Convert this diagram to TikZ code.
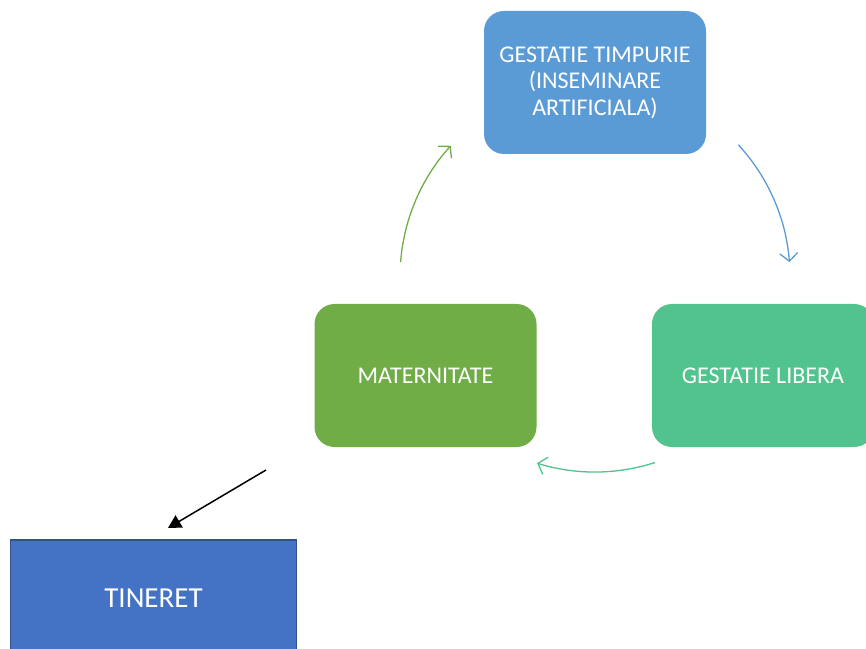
\documentclass[tikz,border=0pt]{standalone}
\usepackage{fontspec}
\setmainfont{Carlito}
\usetikzlibrary{arrows.meta,calc}
\definecolor{cBlue}{RGB}{91,155,213}
\definecolor{cTeal}{RGB}{80,196,140}
\definecolor{cGreen}{RGB}{112,173,71}
\definecolor{cDark}{RGB}{68,114,196}
\definecolor{cDarkEdge}{RGB}{47,82,143}
\tikzset{
  cyclebox/.style={rounded corners=20pt, minimum width=222pt, minimum height=143pt, inner sep=0pt, text=white, font=\fontsize{24}{26.5}\selectfont, align=center},
  cyclearrow/.style={line width=1.3pt, -{Straight Barb[length=8pt,width=18pt,line width=1.3pt]}},
}
\begin{document}
\begin{tikzpicture}
\clip (0,0) rectangle (866pt,648pt);
\useasboundingbox (0,0) rectangle (866pt,648pt);
\node[cyclebox, fill=cBlue] (top) at (595pt,565.5pt) {GESTATIE TIMPURIE\\(INSEMINARE\\ARTIFICIALA)};
\node[cyclebox, fill=cTeal] (lib) at (763pt,272.5pt) {GESTATIE LIBERA};
\node[cyclebox, fill=cGreen] (mat) at (425.5pt,272.5pt) {MATERNITATE};
\node[draw=cDarkEdge, line width=1.5pt, fill=cDark, minimum width=286pt, minimum height=116pt, inner sep=0pt, text=white, font=\fontsize{29}{32}\selectfont] (tin) at (153.5pt,50pt) {TINERET};
\coordinate (cyc) at (595pt,371pt);
\coordinate (g1) at ($(cyc)+(175.6:195pt)$);
\coordinate (b1) at ($(cyc)+(42.7:195pt)$);
\coordinate (t1) at ($(cyc)+(-72.1:195pt)$);
\draw[cyclearrow, draw=cGreen] (g1) arc[start angle=175.6, end angle=137.7, radius=195pt];
\draw[cyclearrow, draw=cBlue] (b1) arc[start angle=42.7, end angle=4.4, radius=195pt];
\draw[cyclearrow, draw=cTeal] (t1) arc[start angle=-72.1, end angle=-107.3, radius=195pt];
\coordinate (k1) at (266pt,178pt);
\coordinate (k2) at (168pt,120pt);
\draw[line width=1.5pt, -{Triangle[length=13pt,width=14pt]}] (k1) -- (k2);
\end{tikzpicture}
\end{document}
